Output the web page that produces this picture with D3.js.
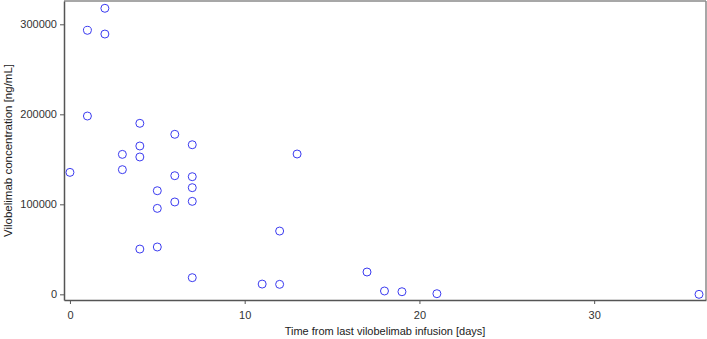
<!DOCTYPE html>
<html>
<head>
<meta charset="utf-8">
<script src="https://cdn.jsdelivr.net/npm/d3@7"></script>
<style>
  body { margin: 0; background: #fff; }
  text { font-family: "Liberation Sans", Arial, sans-serif; }
</style>
</head>
<body>
<div id="chart"></div>
<script>
// days since last infusion and measured concentration (ng/mL)
var days = [0, 1, 1, 2, 2, 3, 3, 4, 4, 4, 4, 5, 5, 5, 6, 6, 6, 7, 7, 7, 7, 7,
            11, 12, 12, 13, 17, 18, 19, 21, 36];
var conc = [135500, 293300, 198100, 317800, 289200, 155500, 138500, 190000, 164800, 152600, 50300,
            115100, 95500, 52600, 177800, 131800, 102600, 166200, 130700, 118500, 103300, 18500,
            11400, 11100, 70300, 155900, 24800, 3700, 2900, 700, 0];
var xTicks = [0, 10, 20, 30];
var yTicks = [0, 100000, 200000, 300000];

var margin = {top: 1, right: 1, bottom: 39, left: 64},
    width = 707 - margin.left - margin.right,
    height = 339 - margin.top - margin.bottom;

var x = d3.scaleLinear().domain([-0.34, 36.4]).range([0, width]);
var y = d3.scaleLinear().domain([-6300, 325900]).range([height, 0]);

var svg = d3.select("#chart").append("svg")
    .attr("width", 707)
    .attr("height", 339)
  .append("g")
    .attr("transform", "translate(" + margin.left + "," + margin.top + ")");

// top and right frame
svg.append("line")
    .attr("x1", 0).attr("x2", width).attr("y1", 0).attr("y2", 0)
    .style("stroke", "#8a8a8a").style("stroke-width", 1.5);
svg.append("line")
    .attr("x1", width).attr("x2", width).attr("y1", 0).attr("y2", height)
    .style("stroke", "#8a8a8a").style("stroke-width", 1.5);

var xAxis = svg.append("g")
    .attr("transform", "translate(0," + height + ")")
    .call(d3.axisBottom(x).tickValues(xTicks).tickSize(4).tickSizeOuter(0));
var yAxis = svg.append("g")
    .call(d3.axisLeft(y).tickValues(yTicks).tickSize(4).tickSizeOuter(0).tickFormat(d3.format("d")));

[xAxis, yAxis].forEach(function(a) {
  a.select(".domain").style("stroke", "#555").style("stroke-width", 1.5);
  a.selectAll(".tick line").style("stroke", "#555");
  a.selectAll(".tick text").style("fill", "#333").style("font-size", "11px")
    .style("font-family", "'Liberation Sans', Arial, sans-serif");
});
xAxis.selectAll(".tick text").attr("dy", "1.1em");

svg.selectAll(".pt")
    .data(days)
  .enter().append("circle")
    .attr("class", "pt")
    .attr("cx", function(d) { return x(d); })
    .attr("cy", function(d, i) { return y(conc[i]); })
    .attr("r", 4)
    .style("fill", "none")
    .style("stroke", "#3b3bf0")
    .style("stroke-width", 1);

svg.append("text")
    .attr("x", width / 2)
    .attr("y", height + 35)
    .style("text-anchor", "middle")
    .style("font-size", "11px")
    .style("fill", "#222")
    .text("Time from last vilobelimab infusion [days]");

svg.append("text")
    .attr("transform", "translate(" + (-margin.left + 12) + "," + (height / 2) + ") rotate(-90)")
    .style("text-anchor", "middle")
    .style("font-size", "11.5px")
    .style("fill", "#222")
    .text("Vilobelimab concentration [ng/mL]");
</script>
</body>
</html>
